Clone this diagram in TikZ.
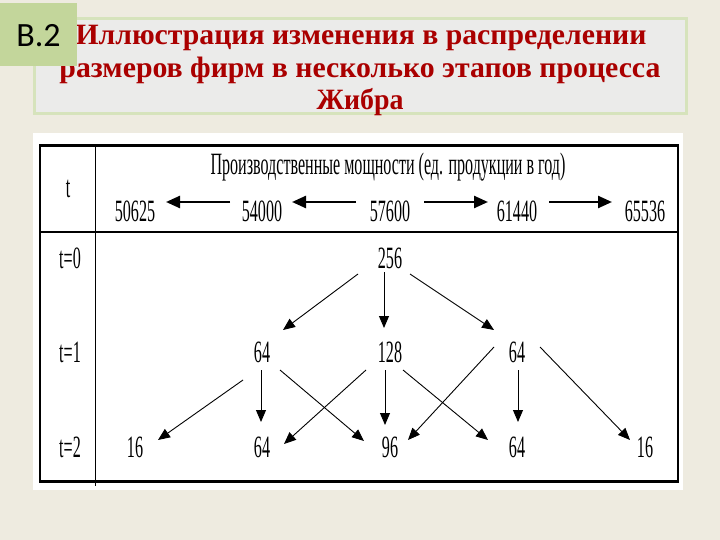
\documentclass[tikz,border=0pt]{standalone}
\usepackage{fontspec}
\setmainfont{Liberation Serif}
\newfontfamily\carlitofont{Carlito}
\usetikzlibrary{arrows.meta}
\definecolor{pagebg}{HTML}{EEEBE0}
\definecolor{titlefill}{HTML}{EBEBEA}
\definecolor{titleborder}{HTML}{D6E3BC}
\definecolor{greenbox}{HTML}{C3D69B}
\definecolor{titlered}{HTML}{AA0000}
\newcommand{\cn}[1]{\scalebox{0.52}[1]{#1}}
\begin{document}
\begin{tikzpicture}[x=1pt,y=-1pt,
  num/.style={inner sep=0pt, font=\fontsize{31}{31}\selectfont},
  harr/.style={line width=2.4pt, -{Triangle[length=14pt,width=12pt]}},
  barr/.style={line width=0.9pt, -{Triangle[length=12pt,width=10pt]}},
  ttl/.style={inner sep=0pt, anchor=base, text=titlered, font=\fontsize{29.5}{29.5}\selectfont\bfseries}]
\useasboundingbox (0,0) rectangle (720,540);
\fill[pagebg] (0,0) rectangle (720,540);
% title
\draw[titleborder, line width=3pt, fill=titlefill] (34,19) rectangle (686,114);
\node[ttl] (l1) at (361,45) {\resizebox{571pt}{\height}{Иллюстрация изменения в распределении}};
\node[ttl] (l2) at (360,78) {\resizebox{601pt}{\height}{размеров фирм в несколько этапов процесса}};
\node[ttl] (l3) at (360,110) {\resizebox{87pt}{\height}{Жибра}};
\fill[greenbox] (0,3) rectangle (77,66);
\node[anchor=base, inner sep=0pt, font=\carlitofont\fontsize{34}{34}\selectfont] (b2) at (38.5,47) {B.2};
% table
\fill[white] (33,133) rectangle (683,490);
\draw[line width=1.3pt] (40,146) -- (40,481) (678,146) -- (678,481);
\draw[line width=3pt] (39,146) -- (679,146) (39,481) -- (679,481);
\draw[line width=1pt] (95,146) -- (95,486);
\draw[line width=1.3pt] (40,232) -- (678,232);
% header
\node[num, anchor=base] (hd) at (388,175) {\resizebox{355pt}{\height}{Производственные мощности (ед. продукции в год)}};
\node[num] (tt) at (68,189) {\cn{t}};
\node[num] (h1) at (135,211) {\cn{50625}};
\node[num] (h2) at (262,211) {\cn{54000}};
\node[num] (h3) at (390,211) {\cn{57600}};
\node[num] (h4) at (517,211) {\cn{61440}};
\node[num] (h5) at (645,211) {\cn{65536}};
\draw[harr] ([shift={(-32,-9)}]h2.center) -- ([shift={(31,-9)}]h1.center);
\draw[harr] ([shift={(-34,-9)}]h3.center) -- ([shift={(30,-9)}]h2.center);
\draw[harr] ([shift={(34,-9)}]h3.center) -- ([shift={(-29,-9)}]h4.center);
\draw[harr] ([shift={(32,-9)}]h4.center) -- ([shift={(-33,-9)}]h5.center);
% rows
\node[num] (t0) at (70,258) {\cn{t=0}};
\node[num] (t1) at (70,352) {\cn{t=1}};
\node[num] (t2) at (70,447) {\cn{t=2}};
\node[num] (n256) at (390,258) {\cn{256}};
\node[num] (a64) at (262,352) {\cn{64}};
\node[num] (a128) at (390,352) {\cn{128}};
\node[num] (a64r) at (517,352) {\cn{64}};
\node[num] (b16) at (135,447) {\cn{16}};
\node[num] (b64) at (262,447) {\cn{64}};
\node[num] (b96) at (390,447) {\cn{96}};
\node[num] (b64r) at (517,447) {\cn{64}};
\node[num] (b16r) at (645,447) {\cn{16}};
\draw[barr] ([shift={(-32,16)}]n256.center) -- ([shift={(21,-22)}]a64.center);
\draw[barr] ([shift={(-6,14)}]n256.center) -- ([shift={(-6,-24)}]a128.center);
\draw[barr] ([shift={(20,16)}]n256.center) -- ([shift={(-23,-22)}]a64r.center);
\draw[barr] ([shift={(-19,28)}]a64.center) -- ([shift={(23,-7)}]b16.center);
\draw[barr] ([shift={(-1,18)}]a64.center) -- ([shift={(-1,-25)}]b64.center);
\draw[barr] ([shift={(18,18)}]a64.center) -- ([shift={(-26,-6)}]b96.center);
\draw[barr] ([shift={(-24,18)}]a128.center) -- ([shift={(22,-3)}]b64.center);
\draw[barr] ([shift={(-5,18)}]a128.center) -- ([shift={(-5,-22)}]b96.center);
\draw[barr] ([shift={(13,18)}]a128.center) -- ([shift={(-29,-7)}]b64r.center);
\draw[barr] ([shift={(-23,-5)}]a64r.center) -- ([shift={(18,-7)}]b96.center);
\draw[barr] ([shift={(1,18)}]a64r.center) -- ([shift={(1,-25)}]b64r.center);
\draw[barr] ([shift={(23,-5)}]a64r.center) -- ([shift={(-15,-7)}]b16r.center);
\end{tikzpicture}
\end{document}
